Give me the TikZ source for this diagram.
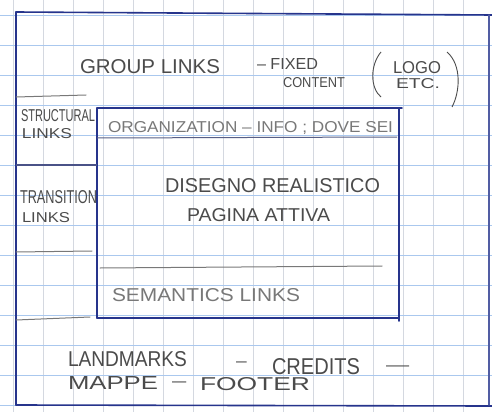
\documentclass[tikz,border=0pt]{standalone}
\usepackage{fontspec}
\setmainfont{Liberation Sans}
\usepackage{graphicx}
\definecolor{ink}{RGB}{38,52,140}
\definecolor{pencil}{RGB}{75,75,75}
\definecolor{lightpencil}{RGB}{120,120,120}
\definecolor{gridblue}{RGB}{170,200,238}
\definecolor{gridgray}{RGB}{212,216,224}
\newcommand{\hw}[3]{\resizebox{#1pt}{#2pt}{#3}}
\newcommand{\hdash}[1]{\scalebox{#1}[1]{\fontsize{16}{16}\selectfont –}}
\begin{document}
\begin{tikzpicture}[x=1pt,y=-1pt,
  hand/.style={inner sep=0pt, outer sep=0pt, text=pencil, anchor=base west},
  faint/.style={hand, text=lightpencil},
  inkline/.style={draw=ink, line width=1.6pt, line cap=round},
  thinink/.style={draw=ink!80, line width=1.1pt, line cap=round},
  penline/.style={draw=lightpencil, line width=1pt, line cap=round},
  hgrid/.style={draw=gridblue, line width=0.8pt},
  vgrid/.style={draw=gridgray, line width=0.8pt}]
\useasboundingbox (0,0) rectangle (492,412);
\fill[white] (0,0) rectangle (492,412);
% graph paper
\foreach \x in {13,43,...,493} \draw[vgrid] (\x,0) -- (\x,412);
\foreach \y in {15,45,...,405} \draw[hgrid] (0,\y) -- (492,\y);
% outer frame
\coordinate (otl) at (16,12);
\coordinate (otr) at (492,15);
\coordinate (obl) at (16,405);
\coordinate (obr) at (492,406);
\coordinate (ort) at (489,15);
\coordinate (orb) at (489,405);
\draw[inkline] (otl) -- (otr);
\draw[inkline] (otl) -- (obl);
\draw[inkline] (obl) -- (obr);
\draw[thinink] (ort) -- (orb);
% inner content box
\coordinate (itl) at (97,108);
\coordinate (itr) at (402,108);
\coordinate (ibl) at (97,318);
\coordinate (ibr) at (399,318);
\coordinate (irt) at (399,108);
\coordinate (irb) at (399,321);
\draw[inkline] (itl) -- (itr);
\draw[inkline] (itl) -- (ibl);
\draw[inkline] (ibl) -- (ibr);
\draw[inkline] (irt) -- (irb);
% left column separators
\coordinate (s1a) at (16,97);  \coordinate (s1b) at (86,95);
\coordinate (s2a) at (16,165); \coordinate (s2b) at (97,165);
\coordinate (s3a) at (16,252); \coordinate (s3b) at (92,251);
\coordinate (s4a) at (16,320); \coordinate (s4b) at (90,317);
\draw[penline] (s1a) -- (s1b);
\draw[draw=ink!60!gray, line width=1.1pt] (s2a) -- (s2b);
\draw[penline] (s3a) -- (s3b);
\draw[penline] (s4a) -- (s4b);
% inner separators
\coordinate (o1) at (97,138); \coordinate (o2) at (397,137);
\coordinate (m1) at (100,268); \coordinate (m2) at (382,266);
\draw[draw=ink!45!gray, line width=1pt] (o1) -- (o2);
\draw[penline] (m1) -- (m2);
% header texts
\node[hand] (group) at (80,74) {\hw{140}{14}{GROUP LINKS}};
\node[hand] (fixed) at (257,69) {\hw{61}{11}{– FIXED}};
\node[hand] (content) at (283,87) {\hw{62}{10}{CONTENT}};
\node[hand] (logo) at (393,74) {\hw{48}{12}{LOGO}};
\node[hand] (etc) at (396,88) {\hw{44}{10}{ETC.}};
\coordinate (pl1) at (381,52); \coordinate (pl2) at (381,97);
\coordinate (pr1) at (447,52); \coordinate (pr2) at (452,107);
\draw[draw=pencil, line width=0.9pt] (pl1) .. controls (370,65) and (370,88) .. (pl2);
\draw[draw=pencil, line width=0.9pt] (pr1) .. controls (462,65) and (460,92) .. (pr2);
% left column texts
\node[hand] (struct) at (21,121) {\hw{74}{12}{STRUCTURAL}};
\node[hand] (slinks) at (22,138) {\hw{50}{10}{LINKS}};
\node[hand] (trans) at (20,203) {\hw{77}{13}{TRANSITION}};
\node[hand] (tlinks) at (22,222) {\hw{48}{10}{LINKS}};
% inner texts
\node[faint] (org) at (108,132) {\hw{285}{11}{ORGANIZATION – INFO ; DOVE SEI}};
\node[hand] (dis) at (165,192) {\hw{215}{14}{DISEGNO REALISTICO}};
\node[hand] (pag) at (187,221) {\hw{143}{13}{PAGINA ATTIVA}};
\node[faint] (sem) at (112,301) {\hw{188}{13}{SEMANTICS LINKS}};
% footer texts
\node[hand] (land) at (68,366) {\hw{119}{15}{LANDMARKS}};
\node[hand, anchor=west] (d1) at (236,364) {\hdash{1.2}};
\node[hand] (cred) at (272,374) {\hw{88}{16}{CREDITS}};
\node[hand, anchor=west] (d2) at (386,368) {\hdash{2.6}};
\node[hand] (mappe) at (68,389) {\hw{90}{13}{MAPPE}};
\node[hand, anchor=west] (d3) at (172,384) {\hdash{1.6}};
\node[hand] (foot) at (200,390) {\hw{110}{13}{FOOTER}};
\end{tikzpicture}
\end{document}
